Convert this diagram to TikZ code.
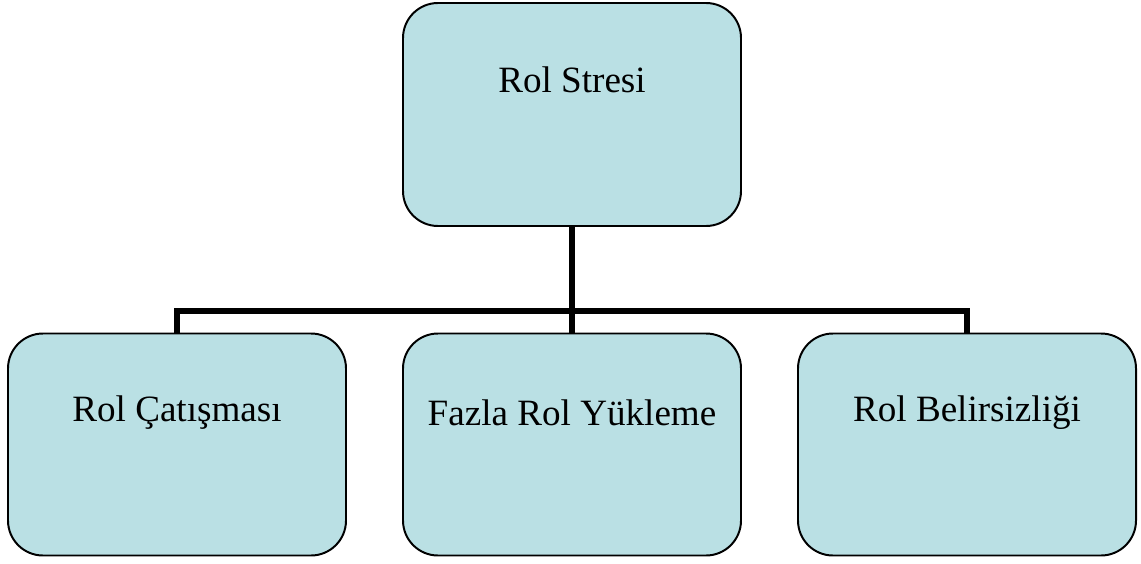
\documentclass[tikz,border=0pt]{standalone}
\usepackage{fontspec}
\setmainfont{Liberation Serif}
\usepackage{xcolor}
\usepackage{tikz}
\usetikzlibrary{positioning}
\definecolor{boxblue}{HTML}{BAE0E4}

\tikzset{
  rolbox/.style={draw, line width=1.4pt, fill=boxblue, rounded corners=0.875cm,
    minimum width=8.45cm, minimum height=5.55cm, inner sep=0pt},
  rollabel/.style={font=\fontsize{26.4}{31}\selectfont},
  bar/.style={line width=4.3pt}
}

\begin{document}
\begin{tikzpicture}[scale=1]
\useasboundingbox (0,0) rectangle (28.525,14.075);

% Top box
\node[rolbox, minimum height=5.575cm] (stres) at (14.3,11.2125) {};
\node[rollabel] (stresT) at ([yshift=-1.95cm]stres.north) {Rol Stresi};

% Bottom boxes
\node[rolbox] (catisma) at (4.425,2.9625) {};
\node[rolbox] (yukleme) at (14.3,2.9625) {};
\node[rolbox] (belirsiz) at (24.175,2.9625) {};

\node[rollabel] (catismaT) at ([yshift=-2.0cm]catisma.north) {Rol Çatışması};
\node[rollabel] (yuklemeT) at ([yshift=-2.0cm]yukleme.north) {Fazla Rol Yükleme};
\node[rollabel] (belirsizT) at ([yshift=-2.0cm]belirsiz.north) {Rol Belirsizliği};

% Connectors
\coordinate (bar) at (14.3,6.3);
\draw[bar] (stres.south) -- (bar);
\draw[bar] (catisma.north) |- (bar) -| (belirsiz.north);
\draw[bar] (bar) -- (yukleme.north);

\end{tikzpicture}
\end{document}
